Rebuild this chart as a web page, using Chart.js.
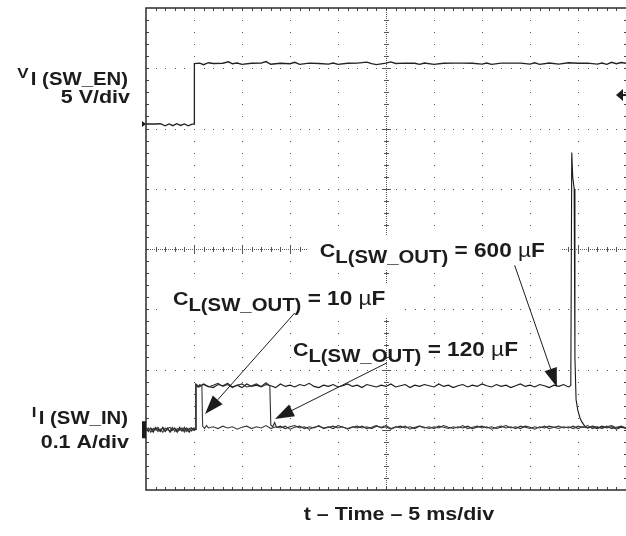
<!DOCTYPE html>
<html>
<head>
<meta charset="utf-8">
<title>SW_EN turn-on, input current</title>
<script src="https://cdn.jsdelivr.net/npm/chart.js@4.4.1/dist/chart.umd.min.js"></script>
<style>
  html, body { margin: 0; padding: 0; background: #fff; }
  canvas { display: block; }
</style>
</head>
<body>
<canvas id="scope" width="626" height="536"></canvas>
<script>
// Scope settings (10 x 8 divisions)
const TIME_PER_DIV = 5;      // ms/div
const VOLTS_PER_DIV = 5;     // V/div, channel 1
const AMPS_PER_DIV = 0.1;    // A/div, channel 2
const H_DIVS = 10;
const V_DIVS = 8;
const CH1_ZERO_DIV = 2.075;  // ground marker of V_I(SW_EN), divisions above centre
const CH2_ZERO_DIV = -3;     // ground marker of I_I(SW_IN)
const TRIGGER_VOLTS = 2.4;

// V_I(SW_EN) [ms, V]
const enableTrace = [
  [0, 0], [1, 0], [1.5, 0.02], [2, -0.15], [2.4, 0], [2.8, -0.14], [3.2, 0.02], [3.6, -0.12],
  [4, 0], [4.4, -0.15], [4.8, -0.02], [5, 0],
  [5.04, 5.02], [5.6, 5.05], [6, 4.92], [6.5, 5.08], [7, 5.02], [8, 5.04], [8.6, 5.16], [9, 5.0],
  [9.5, 5.06], [10, 4.94], [11, 5.04], [12, 5.05], [12.5, 5.18], [13, 4.96], [14, 5.04], [15, 5.0],
  [15.5, 5.12], [16, 4.94], [17, 5.05], [18, 5.02], [19, 4.96], [19.5, 5.06], [20, 4.95], [21, 5.04],
  [22, 5.05], [23, 5.14], [23.5, 5.0], [24, 4.93], [25, 5.05], [25.5, 5.15], [26, 5.02], [27, 5.05],
  [28, 5.04], [28.5, 4.95], [29, 5.06], [30, 4.94], [31, 5.04], [32, 5.05], [33, 5.05], [34, 5.04],
  [35, 4.96], [35.5, 5.06], [36, 4.94], [37, 5.05], [38, 5.05], [39, 5.05], [40, 4.96], [40.5, 5.08],
  [41, 4.95], [42, 5.06], [43, 4.96], [44, 5.08], [45, 5.04], [46, 5.05], [47, 4.96], [47.5, 5.06],
  [48, 4.95], [48.5, 5.12], [49, 5.0], [49.5, 5.1], [50, 5.04]
];

// I_I(SW_IN) with C_L(SW_OUT) = 10 uF [ms, A]
const cl10Trace = [
  [0, 0.002], [0.25, -0.003], [0.5, 0.003], [0.75, -0.001], [1, 0.004], [1.25, -0.003], [1.5, 0.001],
  [1.75, -0.004], [2, 0.003], [2.25, 0], [2.5, -0.002], [2.75, 0.004], [3, -0.003], [3.25, 0.002],
  [3.5, -0.001], [3.75, 0.003], [4, -0.004], [4.25, 0.002], [4.5, 0], [4.75, -0.002], [5, 0.003],
  [5.12, 0.001], [5.18, 0.074], [5.4, 0.071], [5.6, 0.075], [5.82, 0.072], [5.9, 0.006], [6.1, 0.002],
  [6.3, 0.007], [6.5, 0.003], [7, 0.005], [7.5, 0.002], [8, 0.006], [8.5, 0.003], [9, 0.005],
  [9.5, 0.001], [10, 0.004], [10.5, 0.006], [11, 0.002], [11.5, 0.005], [12, 0.003], [12.5, 0.007],
  [13, 0.002], [13.5, 0.005], [14, 0.003], [14.5, 0.006], [15, 0.001], [15.5, 0.004], [16, 0.006],
  [16.5, 0.002], [17, 0.005], [17.5, 0.003], [18, 0.007], [18.5, 0.002], [19, 0.004], [19.5, 0.006],
  [20, 0.003], [20.5, 0.005], [21, 0.001], [21.5, 0.004], [22, 0.006], [22.5, 0.003], [23, 0.005],
  [23.5, 0.002], [24, 0.006], [24.5, 0.004], [25, 0.007], [25.5, 0.002], [26, 0.005], [26.5, 0.003],
  [27, 0.006], [27.5, 0.001], [28, 0.004], [28.5, 0.006], [29, 0.003], [29.5, 0.005], [30, 0.002],
  [30.5, 0.006], [31, 0.004], [31.5, 0.002], [32, 0.005], [32.5, 0.003], [33, 0.007], [33.5, 0.002],
  [34, 0.004], [34.5, 0.006], [35, 0.003], [35.5, 0.005], [36, 0.001], [36.5, 0.004], [37, 0.006],
  [37.5, 0.003], [38, 0.005], [38.5, 0.002], [39, 0.006], [39.5, 0.004], [40, 0.002], [40.5, 0.005],
  [41, 0.003], [41.5, 0.006], [42, 0.002], [42.5, 0.004], [43, 0.006], [43.5, 0.003], [44, 0.005],
  [44.5, 0.002], [45, 0.006], [45.5, 0.004], [46, 0.007], [46.5, 0.002], [47, 0.005], [47.5, 0.003],
  [48, 0.006], [48.5, 0.002], [49, 0.004], [49.5, 0.006], [50, 0.003]
];

// C_L(SW_OUT) = 120 uF
const cl120Trace = [
  [0, -0.002], [0.25, 0.003], [0.5, -0.004], [0.75, 0.002], [1, 0], [1.25, 0.004], [1.5, -0.002],
  [1.75, 0.003], [2, -0.003], [2.25, 0.002], [2.5, 0.004], [2.75, -0.001], [3, 0.003], [3.25, -0.004],
  [3.5, 0.001], [3.75, -0.002], [4, 0.004], [4.25, -0.003], [4.5, 0.002], [4.75, 0.003], [5, -0.001],
  [5.12, 0], [5.2, 0.076], [5.5, 0.072], [6, 0.075], [6.5, 0.071], [7, 0.074], [7.5, 0.077],
  [8, 0.072], [8.5, 0.075], [9, 0.070], [9.5, 0.074], [10, 0.076], [10.5, 0.071], [11, 0.073],
  [11.5, 0.076], [12, 0.072], [12.5, 0.078], [12.9, 0.073], [13, 0.008], [13.2, 0.005], [13.4, 0.012],
  [13.6, 0.004], [14, 0.006], [14.5, 0.002], [15, 0.005], [15.5, 0.007], [16, 0.003], [16.5, 0.005],
  [17, 0.001], [17.5, 0.004], [18, 0.006], [18.5, 0.003], [19, 0.005], [19.5, 0.002], [20, 0.007],
  [20.5, 0.004], [21, 0.002], [21.5, 0.005], [22, 0.003], [22.5, 0.006], [23, 0.002], [23.5, 0.004],
  [24, 0.007], [24.5, 0.003], [25, 0.005], [25.5, 0.001], [26, 0.004], [26.5, 0.006], [27, 0.003],
  [27.5, 0.005], [28, 0.002], [28.5, 0.006], [29, 0.004], [29.5, 0.002], [30, 0.005], [30.5, 0.003],
  [31, 0.007], [31.5, 0.004], [32, 0.002], [32.5, 0.005], [33, 0.003], [33.5, 0.006], [34, 0.002],
  [34.5, 0.004], [35, 0.006], [35.5, 0.003], [36, 0.005], [36.5, 0.002], [37, 0.004], [37.5, 0.007],
  [38, 0.003], [38.5, 0.005], [39, 0.002], [39.5, 0.006], [40, 0.004], [40.5, 0.001], [41, 0.005],
  [41.5, 0.003], [42, 0.006], [42.5, 0.004], [43, 0.002], [43.5, 0.005], [44, 0.003], [44.5, 0.006],
  [45, 0.002], [45.5, 0.005], [46, 0.003], [46.5, 0.006], [47, 0.004], [47.5, 0.002], [48, 0.005],
  [48.5, 0.007], [49, 0.003], [49.5, 0.005], [50, 0.002]
];

// C_L(SW_OUT) = 600 uF
const cl600Trace = [
  [0, 0.003], [0.25, -0.001], [0.5, 0.002], [0.75, -0.004], [1, 0.003], [1.25, 0.001], [1.5, -0.003],
  [1.75, 0.004], [2, -0.002], [2.25, 0.003], [2.5, -0.004], [2.75, 0.001], [3, 0.002], [3.25, -0.003],
  [3.5, 0.004], [3.75, -0.002], [4, 0.001], [4.25, 0.003], [4.5, -0.004], [4.75, 0.002], [5, 0],
  [5.12, 0.001], [5.2, 0.075], [5.5, 0.071], [6, 0.076], [6.5, 0.072], [7, 0.070], [7.5, 0.075],
  [8, 0.073], [8.5, 0.077], [9, 0.071], [9.5, 0.074], [10, 0.070], [10.5, 0.076], [11, 0.072],
  [11.5, 0.074], [12, 0.071], [12.5, 0.075], [13, 0.073], [13.5, 0.070], [14, 0.076], [14.5, 0.072],
  [15, 0.074], [15.5, 0.071], [16, 0.075], [16.5, 0.073], [17, 0.077], [17.5, 0.072], [18, 0.070],
  [18.5, 0.074], [19, 0.072], [19.5, 0.075], [20, 0.071], [20.5, 0.073], [21, 0.076], [21.5, 0.072],
  [22, 0.074], [22.5, 0.070], [23, 0.075], [23.5, 0.073], [24, 0.071], [24.5, 0.074], [25, 0.072],
  [25.5, 0.076], [26, 0.071], [26.5, 0.073], [27, 0.075], [27.5, 0.070], [28, 0.074], [28.5, 0.072],
  [29, 0.075], [29.5, 0.073], [30, 0.071], [30.5, 0.076], [31, 0.072], [31.5, 0.074], [32, 0.070],
  [32.5, 0.073], [33, 0.075], [33.5, 0.071], [34, 0.074], [34.5, 0.072], [35, 0.076], [35.5, 0.073],
  [36, 0.071], [36.5, 0.075], [37, 0.072], [37.5, 0.074], [38, 0.070], [38.5, 0.073], [39, 0.076],
  [39.5, 0.072], [40, 0.074], [40.5, 0.071], [41, 0.075], [41.5, 0.073], [42, 0.070], [42.5, 0.074],
  [43, 0.072], [43.5, 0.075], [44, 0.071], [44.25, 0.073], [44.35, 0.46], [44.45, 0.42], [44.6, 0.40],
  [44.68, 0.12], [44.8, 0.05], [44.97, 0.033], [45.2, 0.02], [45.4, 0.013], [45.7, 0.006], [46, 0.003],
  [46.5, 0.005], [47, 0.002], [47.5, 0.006], [48, 0.003], [48.5, 0.005], [49, 0.001], [49.5, 0.004],
  [50, 0.003]
];

// Annotations, in scope units [ms, A]
const capLabels = [
  { value: '600', t: 18.1, amps: 0.287, box: true },
  { value: '10', t: 2.8, amps: 0.207, box: true },
  { value: '120', t: 15.3, amps: 0.1225, box: false }
];
const arrows = [
  { from: [15.5, 0.194], to: [6.15, 0.026] },
  { from: [25.1, 0.111], to: [13.44, 0.018] },
  { from: [38.4, 0.273], to: [42.8, 0.071] }
];

const FONT = '"Liberation Sans", Arial, Helvetica, sans-serif';
const TEXT_STRETCH = 1.13;
const INK = '#1e1b1c';

function font(size, weight) {
  return (weight || 'bold') + ' ' + size + 'px ' + FONT;
}

// Measure text made of runs (main, subscript...), stretched like the scan
function richWidth(ctx, parts) {
  let w = 0;
  for (const p of parts) {
    ctx.font = p.font;
    w += ctx.measureText(p.text).width + (p.gap || 0);
  }
  return w * TEXT_STRETCH;
}

function drawRich(ctx, x, y, parts, align) {
  const w = richWidth(ctx, parts);
  let left = x;
  if (align === 'right') left = x - w;
  if (align === 'center') left = x - w / 2;
  ctx.save();
  ctx.translate(left, y);
  ctx.scale(TEXT_STRETCH, 1);
  ctx.fillStyle = INK;
  ctx.textBaseline = 'alphabetic';
  let cx = 0;
  for (const p of parts) {
    ctx.font = p.font;
    cx += p.gap || 0;
    ctx.fillText(p.text, cx, p.dy || 0);
    cx += ctx.measureText(p.text).width;
  }
  ctx.restore();
  return { left: left, right: left + w };
}

function capParts(value) {
  return [
    { text: 'C', font: font(19) },
    { text: 'L(SW_OUT)', font: font(18), dy: 6 },
    { text: ' = ' + value + ' ', font: font(20) },
    { text: 'µ', font: font(20, 'normal') },
    { text: 'F', font: font(20) }
  ];
}

function drawArrow(ctx, x1, y1, x2, y2) {
  const ang = Math.atan2(y2 - y1, x2 - x1);
  const len = 19, half = 6.5;
  const bx = x2 - len * Math.cos(ang);
  const by = y2 - len * Math.sin(ang);
  ctx.beginPath();
  ctx.moveTo(x1, y1);
  ctx.lineTo(bx, by);
  ctx.stroke();
  ctx.beginPath();
  ctx.moveTo(x2, y2);
  ctx.lineTo(bx + half * Math.sin(ang), by - half * Math.cos(ang));
  ctx.lineTo(bx - half * Math.sin(ang), by + half * Math.cos(ang));
  ctx.closePath();
  ctx.fill();
}

// Oscilloscope graticule: dotted divisions, ticked centre lines and frame
const scopeGrid = {
  id: 'scopeGrid',
  beforeDatasetsDraw(chart) {
    const { ctx, chartArea: area, scales: { x, yI } } = chart;
    const colX = [], rowY = [];
    for (let i = 0; i <= H_DIVS * 5; i++) colX.push(Math.round(x.getPixelForValue(i * TIME_PER_DIV / 5)));
    for (let j = 0; j <= V_DIVS * 5; j++) rowY.push(Math.round(yI.getPixelForValue(yI.min + j * AMPS_PER_DIV / 5)));
    const nx = colX.length - 1, ny = rowY.length - 1;
    const cxi = nx / 2, cyi = ny / 2;

    ctx.save();
    ctx.fillStyle = '#555';
    for (let i = 5; i < nx; i += 5) {
      if (i === cxi) continue;
      for (let j = 1; j < ny; j++) ctx.fillRect(colX[i], rowY[j], 1, 1);
    }
    for (let j = 5; j < ny; j += 5) {
      if (j === cyi) continue;
      for (let i = 1; i < nx; i++) ctx.fillRect(colX[i], rowY[j], 1, 1);
    }

    // centre lines
    const cx = colX[cxi], cy = rowY[cyi];
    for (let px = area.left; px < area.right; px += 2) ctx.fillRect(px, cy, 1, 1);
    for (let py = area.top; py < area.bottom; py += 2) ctx.fillRect(cx, py, 1, 1);
    for (let i = 1; i < nx; i++) {
      const h = i % 5 === 0 ? 4 : 2;
      ctx.fillRect(colX[i], cy - h, 1, 2 * h + 1);
    }
    for (let j = 1; j < ny; j++) {
      const h = j % 5 === 0 ? 4 : 2;
      ctx.fillRect(cx - h, rowY[j], 2 * h + 1, 1);
    }

    // frame ticks
    ctx.fillStyle = '#444';
    for (let i = 1; i < nx; i++) {
      ctx.fillRect(colX[i], area.top, 1, 3);
      ctx.fillRect(colX[i], area.bottom - 3, 1, 3);
    }
    for (let j = 1; j < ny; j++) {
      ctx.fillRect(area.left, rowY[j], 3, 1);
      ctx.fillRect(area.right - 2, rowY[j], 2, 1);
    }

    ctx.strokeStyle = '#2b2b2b';
    ctx.lineWidth = 1.5;
    ctx.beginPath();
    ctx.moveTo(area.right, area.top);
    ctx.lineTo(area.left, area.top);
    ctx.lineTo(area.left, area.bottom);
    ctx.lineTo(area.right, area.bottom);
    ctx.stroke();
    ctx.restore();
  }
};

// Labels, arrows, ground and trigger markers
const scopeNotes = {
  id: 'scopeNotes',
  afterDatasetsDraw(chart) {
    const { ctx, chartArea: area, scales: { x, yI, yV } } = chart;
    ctx.save();

    // C_L labels
    for (const lab of capLabels) {
      const lx = x.getPixelForValue(lab.t);
      const ly = yI.getPixelForValue(lab.amps);
      const parts = capParts(lab.value);
      if (lab.box) {
        const w = richWidth(ctx, parts);
        ctx.fillStyle = '#fff';
        ctx.fillRect(lx - 12, ly - 22, w + 28, 34);
      }
      drawRich(ctx, lx, ly, parts, 'left');
    }

    ctx.strokeStyle = INK;
    ctx.fillStyle = INK;
    ctx.lineWidth = 1;
    for (const a of arrows) {
      drawArrow(ctx,
        x.getPixelForValue(a.from[0]), yI.getPixelForValue(a.from[1]),
        x.getPixelForValue(a.to[0]), yI.getPixelForValue(a.to[1]));
    }

    // channel ground markers
    const g1 = yV.getPixelForValue(0);
    ctx.beginPath();
    ctx.moveTo(area.left - 4, g1 - 3);
    ctx.lineTo(area.left, g1);
    ctx.lineTo(area.left - 4, g1 + 3);
    ctx.closePath();
    ctx.fill();
    const g2 = yI.getPixelForValue(0);
    ctx.fillRect(area.left - 4, g2 - 8.5, 4, 17);

    // trigger level marker
    const tr = yV.getPixelForValue(TRIGGER_VOLTS);
    ctx.beginPath();
    ctx.moveTo(area.right - 10, tr);
    ctx.lineTo(area.right - 3, tr - 6);
    ctx.lineTo(area.right - 3, tr + 6);
    ctx.closePath();
    ctx.fill();
    ctx.fillRect(area.right - 3, tr - 1, 3, 2);

    // channel names and scales
    drawRich(ctx, 128, 78, [
      { text: 'V', font: font(15) },
      { text: 'I (SW_EN)', font: font(18), dy: 7, gap: 2 }
    ], 'right');
    drawRich(ctx, 130, 103, [{ text: '5 V/div', font: font(19) }], 'right');
    drawRich(ctx, 128, 417, [
      { text: 'I', font: font(15) },
      { text: 'I (SW_IN)', font: font(18), dy: 7, gap: 2 }
    ], 'right');
    drawRich(ctx, 129, 448, [{ text: '0.1 A/div', font: font(19) }], 'right');

    drawRich(ctx, 399, 520, [{ text: 't – Time – ' + TIME_PER_DIV + ' ms/div', font: font(19) }], 'center');
    ctx.restore();
  }
};

const toPoints = trace => trace.map(([t, v]) => ({ x: t, y: v }));

const chart = new Chart(document.getElementById('scope'), {
  type: 'line',
  data: {
    datasets: [
      { label: 'V_I(SW_EN)', data: toPoints(enableTrace), yAxisID: 'yV', borderColor: '#222', borderWidth: 1.3 },
      { label: 'C_L(SW_OUT) = 10 µF', data: toPoints(cl10Trace), yAxisID: 'yI', borderColor: '#3a3a3a', borderWidth: 1.1 },
      { label: 'C_L(SW_OUT) = 120 µF', data: toPoints(cl120Trace), yAxisID: 'yI', borderColor: '#2e2e2e', borderWidth: 1.1 },
      { label: 'C_L(SW_OUT) = 600 µF', data: toPoints(cl600Trace), yAxisID: 'yI', borderColor: '#181818', borderWidth: 1.1 }
    ]
  },
  options: {
    responsive: false,
    animation: false,
    layout: { padding: { left: 146, top: 8, right: 0, bottom: 46 } },
    elements: {
      point: { radius: 0, hoverRadius: 0 },
      line: { tension: 0, fill: false }
    },
    plugins: {
      legend: { display: false },
      tooltip: { enabled: false }
    },
    scales: {
      x: { type: 'linear', min: 0, max: H_DIVS * TIME_PER_DIV, display: false },
      yV: {
        type: 'linear', display: false,
        min: (-V_DIVS / 2 - CH1_ZERO_DIV) * VOLTS_PER_DIV,
        max: (V_DIVS / 2 - CH1_ZERO_DIV) * VOLTS_PER_DIV
      },
      yI: {
        type: 'linear', display: false,
        min: (-V_DIVS / 2 - CH2_ZERO_DIV) * AMPS_PER_DIV,
        max: (V_DIVS / 2 - CH2_ZERO_DIV) * AMPS_PER_DIV
      }
    }
  },
  plugins: [scopeGrid, scopeNotes]
});
</script>
</body>
</html>
